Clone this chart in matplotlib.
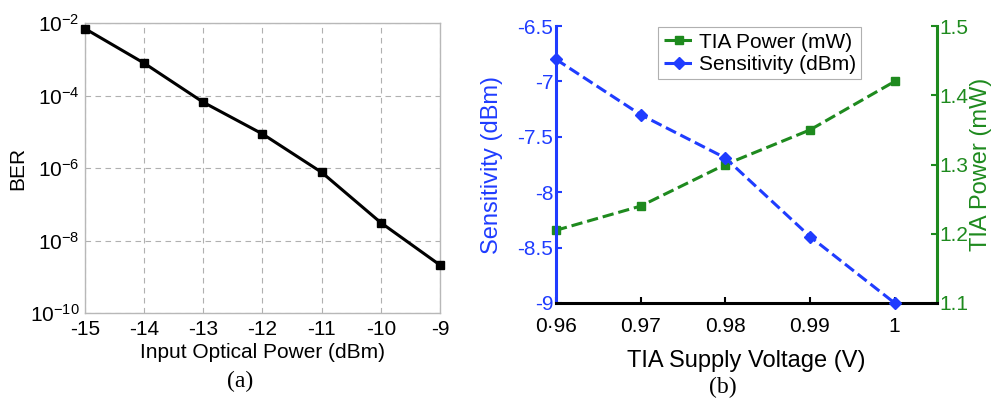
import numpy as np
import matplotlib.pyplot as plt

plt.rcParams['font.family'] = ['Liberation Sans', 'DejaVu Sans']
plt.rcParams['mathtext.fontset'] = 'custom'
plt.rcParams['mathtext.rm'] = 'Liberation Sans'
plt.rcParams['mathtext.it'] = 'Liberation Sans'
plt.rcParams['mathtext.default'] = 'regular'
plt.rcParams['axes.unicode_minus'] = False

# ---- data (a) ----
opt_power = [-15, -14, -13, -12, -11, -10, -9]
ber = [7e-3, 7.8e-4, 6.5e-5, 8.7e-6, 7.6e-7, 3.1e-8, 2.1e-9]

# ---- data (b) ----
voltage = [0.96, 0.97, 0.98, 0.99, 1.00]
sensitivity = [-6.8, -7.3, -7.69, -8.4, -9.0]
tia_power = [1.205, 1.24, 1.30, 1.35, 1.42]
volt_ticks = [0.96, 0.97, 0.98, 0.99, 1.0]
volt_labels = ['0·96', '0.97', '0.98', '0.99', '1']

BLUE = '#1f3cff'
GREEN = '#1e8a1e'

fig = plt.figure(figsize=(9.96, 4.09), dpi=100)

# ======== (a) ========
ax1 = fig.add_axes([0.0853, 0.2347, 0.3565, 0.709])
ax1.semilogy(opt_power, ber, 'k-', lw=2.2, marker='s', ms=5.5,
             mfc='k', mec='k', clip_on=False, zorder=3)
ax1.set_xlim(-15, -9)
ax1.set_ylim(1e-10, 1e-2)
ax1.set_xticks(range(-15, -8))
ax1.set_yticks([1e-10, 1e-8, 1e-6, 1e-4, 1e-2])
ax1.set_yticklabels([r'$10^{-10}$', r'$10^{-8}$', r'$10^{-6}$', r'$10^{-4}$', r'$10^{-2}$'])
ax1.yaxis.set_minor_locator(plt.NullLocator())
ax1.grid(True, which='major', ls=(0, (5, 4)), color='#b0b0b0', lw=0.8)
for s in ax1.spines.values():
    s.set_color('#b8b8b8')
    s.set_linewidth(1.0)
ax1.tick_params(direction='in', length=0, labelsize=15)
ax1.tick_params(axis='x', pad=5)
ax1.tick_params(axis='y', pad=4)
ax1.set_xlabel('Input Optical Power (dBm)', fontsize=15, labelpad=3)
ax1.set_ylabel('BER', fontsize=15)
ax1.yaxis.set_label_coords(-0.163, 0.5)

# ======== (b) ========
ax2 = fig.add_axes([0.5582, 0.2592, 0.3825, 0.677])
ax3 = ax2.twinx()
l_sens, = ax2.plot(voltage, sensitivity, ls='--', color=BLUE, lw=2.2,
                   marker='D', ms=6, mfc=BLUE, mec=BLUE, clip_on=False, zorder=3)
l_pow, = ax3.plot(voltage, tia_power, ls='--', color=GREEN, lw=2.2,
                  marker='s', ms=6, mfc=GREEN, mec=GREEN, clip_on=False, zorder=3)
ax2.set_xlim(0.96, 1.005)
ax2.set_ylim(-9, -6.5)
ax3.set_ylim(1.1, 1.5)
ax2.set_xticks(volt_ticks)
ax2.set_xticklabels(volt_labels)
ax2.set_yticks([-9, -8.5, -8, -7.5, -7, -6.5])
ax2.set_yticklabels(['-9', '-8.5', '-8', '-7.5', '-7', '-6.5'])
ax3.set_yticks([1.1, 1.2, 1.3, 1.4, 1.5])

for a in (ax2, ax3):
    a.spines['top'].set_visible(False)
ax2.spines['left'].set_color(BLUE)
ax2.spines['left'].set_linewidth(2.2)
ax2.spines['bottom'].set_color('k')
ax2.spines['bottom'].set_linewidth(2.2)
ax2.spines['right'].set_visible(False)
ax3.spines['left'].set_visible(False)
ax3.spines['bottom'].set_visible(False)
ax3.spines['right'].set_color(GREEN)
ax3.spines['right'].set_linewidth(2.2)

ax2.tick_params(axis='x', direction='in', length=4, width=1.5, labelsize=15, pad=10)
ax2.tick_params(axis='y', direction='in', length=4, width=1.5, colors=BLUE,
                labelsize=15, pad=2)
ax3.tick_params(axis='y', direction='in', length=4, width=1.5, colors=GREEN,
                labelsize=15, pad=2)
ax2.set_xlabel('TIA Supply Voltage (V)', fontsize=17, labelpad=10)
ax2.set_ylabel('Sensitivity (dBm)', fontsize=17, color=BLUE)
ax3.set_ylabel('TIA Power (mW)', fontsize=17, color=GREEN)
ax2.yaxis.set_label_coords(-0.139, 0.5)
ax3.yaxis.set_label_coords(1.087, 0.5)

leg = ax2.legend([l_pow, l_sens], ['TIA Power (mW)', 'Sensitivity (dBm)'],
                 loc='upper center', bbox_to_anchor=(0.535, 1.01), fontsize=15,
                 handlelength=1.5, handletextpad=0.2, borderpad=0.25,
                 labelspacing=0.15, borderaxespad=0.2, fancybox=False, framealpha=1)
leg.get_frame().set_edgecolor('#b0b0b0')
leg.get_frame().set_linewidth(0.8)
ax2.set_zorder(ax3.get_zorder() + 1)
ax2.patch.set_visible(False)

fig.text(0.241, 0.068, '(a)', ha='center', va='center', fontsize=17,
         family=['Liberation Serif', 'DejaVu Serif'])
fig.text(0.726, 0.052, '(b)', ha='center', va='center', fontsize=17,
         family=['Liberation Serif', 'DejaVu Serif'])

fig.savefig('out.png', dpi=100)
